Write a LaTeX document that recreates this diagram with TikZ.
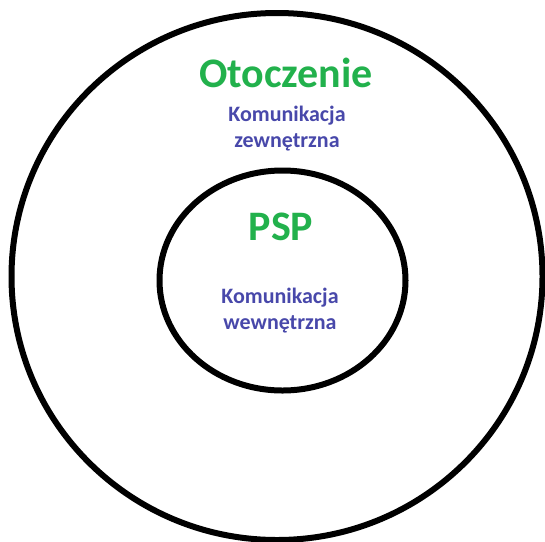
\documentclass[tikz,border=0pt]{standalone}
\usepackage{fontspec}
\setmainfont{Carlito}
\definecolor{titlegreen}{RGB}{34,177,76}
\definecolor{commblue}{RGB}{72,72,170}
\tikzset{
  ring/.style={line width=6pt},
  title/.style={text=titlegreen,font=\bfseries\fontsize{42}{42}\selectfont,inner sep=0pt},
  comm/.style={text=commblue,font=\bfseries\fontsize{22}{26}\selectfont,align=center,inner sep=0pt}
}
\begin{document}
\begin{tikzpicture}[x=1pt,y=-1pt]
            \useasboundingbox (0,0) rectangle (545,541);
            \draw[ring] (277,276.5) ellipse (265.5 and 263.5);
            \draw[ring] (282.5,280.5) ellipse (123 and 110);
            \node[title] (env) at (286,73) {Otoczenie};
            \node[comm] (extcomm) at (287,129) {Komunikacja\\zewnętrzna};
            \node[title] (psp) at (281,227) {PSP};
            \node[comm] (intcomm) at (280,311) {Komunikacja\\wewnętrzna};
        \end{tikzpicture}
\end{document}
